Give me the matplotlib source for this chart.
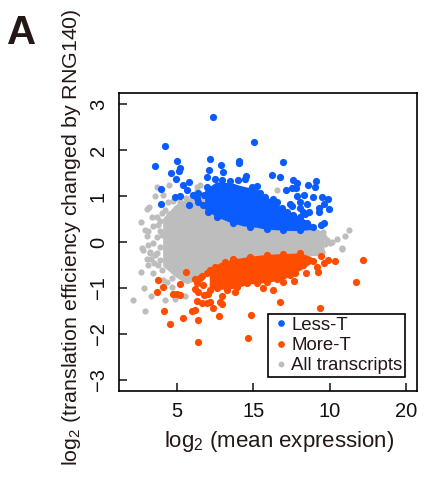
import numpy as np
import matplotlib
matplotlib.use('Agg')
import matplotlib.pyplot as plt
from matplotlib.lines import Line2D

plt.rcParams['font.family'] = ['Liberation Sans', 'DejaVu Sans']
plt.rcParams['mathtext.fontset'] = 'custom'
plt.rcParams['mathtext.rm'] = 'Liberation Sans'
plt.rcParams['mathtext.default'] = 'regular'

# saturated middle of each cloud, read as upper/lower edges
grey_core_x = [4.2, 4.98, 5.63, 6.5, 7.6, 8.68, 9.77, 10.86, 11.95, 13.04, 14.13, 14.46]
grey_core_hi = [0.50, 0.78, 0.88, 1.02, 0.90, 0.60, 0.45, 0.35, 0.30, 0.27, 0.24, 0.19]
grey_core_lo = [-0.50, -0.72, -0.86, -0.75, -0.50, -0.36, -0.30, -0.28, -0.26, -0.25, -0.25, -0.10]

blue_core_x = [6.9, 7.6, 8.47, 9.34, 10.2, 10.65, 11.3, 11.84, 12.39, 13.04, 13.7]
blue_core_hi = [1.12, 1.28, 1.26, 1.18, 1.12, 0.98, 0.87, 0.72, 0.60, 0.52, 0.38]
blue_core_lo = [0.72, 0.58, 0.46, 0.38, 0.35, 0.32, 0.30, 0.29, 0.28, 0.28, 0.30]

orange_core_x = [7.2, 7.81, 8.68, 9.77, 10.86, 11.95, 13.04, 13.7]
orange_core_hi = [-0.62, -0.48, -0.40, -0.34, -0.30, -0.28, -0.27, -0.34]
orange_core_lo = [-1.00, -1.00, -0.98, -0.88, -0.85, -0.78, -0.58, -0.44]

# single points around the clouds
grey_x = [2.63, 3.19, 3.02, 3.67, 4.46, 3.56, 4.11, 4.44, 4.76, 3.35, 3.78, 3.46, 2.91, 3.13, 3.06,
          2.69, 2.80, 3.13, 3.24, 3.46, 4.00, 3.67, 4.22, 5.20, 6.29, 6.51, 11.56, 16.27, 16.0, 15.48,
          15.77, 15.0, 14.57, 14.24, 14.78, 2.15, 2.63, 2.87, 2.91, 3.28, 4.22, 4.89, 5.53, 4.65, 4.11,
          3.46, 3.13, 3.02, 3.56, 3.24, 15.11, 15.77, 14.46, 3.78, 4.0, 4.33, 4.65,
          3.7, 3.9, 3.9, 3.7, 3.9, 3.5, 3.3, 3.9, 4.0, 4.5, 4.9, 5.3, 5.6, 6.0, 6.3, 14.6, 14.4, 14.7]
grey_y = [0.44, 0.77, 0.71, 1.20, 1.25, 1.00, 1.02, 0.88, 0.90, 0.54, 0.38, 0.35, 0.27, 0.25, 0.12,
          -0.14, -0.17, -0.07, -0.25, -0.03, 0.62, 0.55, 0.70, 0.88, 1.20, 1.24, 1.14, 0.27, 0.13, 0.06,
          -0.14, -0.03, 0.22, -0.03, 0.04, -1.27, -0.65, -1.0, -1.51, -1.18, -1.26, -1.23, -1.17, -0.97, -0.83,
          -0.68, -0.5, -0.36, -0.28, -0.21, 0.01, -0.16, -0.21, -0.5, -0.61, -0.86, -0.79,
          0.1, 0.25, -0.1, -0.25, -0.4, -0.45, -0.38, 0.45, 0.15, 0.6, 0.7, 0.85, 0.95, 1.0, 1.1, 0.1, -0.15, -0.05]

blue_x = [7.38, 4.22, 10.01, 3.54, 5.00, 5.18, 5.11, 4.61, 4.94, 3.94, 3.98, 4.87, 5.20, 5.42, 5.77,
          7.16, 7.86, 8.01, 7.09, 9.08, 9.03, 11.93, 11.19, 11.71, 9.49, 6.94, 12.61, 12.87, 14.07, 13.59,
          14.02, 12.13, 12.54, 12.78, 5.81, 6.40, 14.89, 14.92, 14.61, 14.26, 14.26, 14.63, 14.39, 13.65,
          13.37, 12.39, 12.82, 13.04, 13.30, 13.91, 14.46, 13.48, 13.04,
          6.94, 7.49, 7.92, 8.47, 9.01, 9.45, 8.68, 9.88, 10.21, 10.43, 10.75, 11.26, 11.52, 11.84, 12.17,
          12.61, 13.04, 13.48, 13.91, 12.50, 13.26, 7.05, 7.6, 8.68, 9.77, 10.86, 11.95, 13.04,
          6.72, 6.77, 6.4, 6.07, 5.68, 6.29]
blue_y = [2.71, 2.09, 2.17, 1.65, 1.76, 1.62, 1.55, 1.50, 1.36, 1.16, 0.83, 0.97, 0.99, 1.23, 1.31,
          1.80, 1.68, 1.53, 1.57, 1.76, 1.71, 1.75, 1.46, 1.41, 1.44, 1.41, 1.35, 1.29, 1.33, 1.24,
          1.20, 1.13, 1.18, 1.17, 0.80, 0.86, 0.93, 0.72, 0.83, 0.73, 0.66, 0.41, 0.37, 0.65,
          0.61, 0.83, 0.99, 0.73, 1.02, 0.98, 0.97, 0.83, 0.88,
          1.19, 1.38, 1.35, 1.33, 1.35, 1.36, 1.20, 1.19, 1.22, 1.06, 0.98, 0.93, 0.88, 0.75, 0.66,
          0.59, 0.54, 0.41, 0.33, 0.78, 0.66, 0.66, 0.54, 0.42, 0.33, 0.28, 0.26, 0.26,
          0.80, 1.02, 1.06, 1.02, 1.13, 0.95]

orange_x = [17.16, 16.70, 15.35, 14.89, 14.61, 14.13, 14.24, 13.43, 14.39, 11.73, 14.37, 9.82, 9.64, 6.40,
            4.52, 4.15, 5.42, 6.38, 7.73, 5.96, 6.18, 7.36, 7.97, 7.81, 7.97, 7.16, 6.94, 6.33, 6.61,
            3.67, 4.07, 3.76, 4.76, 5.20, 5.02, 5.18, 5.59, 6.18, 6.40, 6.18, 6.61, 11.30, 10.65, 11.91,
            12.65, 8.79, 7.05, 6.77,
            7.16, 7.6, 8.25, 8.9, 9.56, 10.21, 10.86, 11.52, 12.39, 12.72, 13.26, 13.91, 6.51, 6.94, 7.16,
            7.49, 8.14, 6.72, 6.29, 8.68, 9.77, 10.86, 11.95, 13.04]
orange_y = [-0.39, -0.87, -0.41, -0.39, -0.46, -0.54, -0.65, -0.67, -0.30, -1.30, -1.44, -1.59, -2.09, -2.17,
            -1.78, -1.50, -1.65, -1.70, -1.61, -1.49, -1.48, -1.43, -1.35, -1.30, -1.17, -1.30, -1.33, -1.28, -1.32,
            -1.08, -0.97, -0.83, -1.14, -1.15, -1.12, -0.92, -0.65, -1.03, -1.08, -0.81, -0.75, -1.04, -1.01, -0.88,
            -0.84, -1.08, -1.12, -1.15,
            -1.04, -1.01, -1.04, -0.97, -0.90, -0.90, -0.88, -0.81, -0.72, -0.68, -0.50, -0.41, -0.79, -0.68, -0.61,
            -0.54, -0.43, -0.94, -0.90, -0.38, -0.32, -0.28, -0.26, -0.25]

x_ticks = [5, 10, 15, 20]
x_tick_labels = ['5', '15', '10', '20']
y_ticks = [-3, -2, -1, 0, 1, 2, 3]

grey = '#bdbdbd'
blue = '#0a5cff'
orange = '#ff4d00'

fig = plt.figure(figsize=(4.24, 5), dpi=100)
ax = fig.add_axes([119 / 424, 1 - 391 / 500, 298 / 424, 298 / 500])

ax.scatter(grey_x, grey_y, s=20, color=grey, linewidths=0)
ax.fill_between(grey_core_x, grey_core_lo, grey_core_hi, color=grey, linewidth=3)
ax.fill_between(blue_core_x, blue_core_lo, blue_core_hi, color=blue, linewidth=2)
ax.fill_between(orange_core_x, orange_core_lo, orange_core_hi, color=orange, linewidth=2)
ax.scatter(blue_x, blue_y, s=27, color=blue, linewidths=0)
ax.scatter(orange_x, orange_y, s=27, color=orange, linewidths=0)

ax.set_xlim(1.21, 20.69)
ax.set_ylim(-3.24, 3.24)
ax.set_xticks(x_ticks)
ax.set_xticklabels(x_tick_labels)
ax.set_yticks(y_ticks)
ax.tick_params(direction='in', length=5.5, width=1.1, labelsize=14.5, pad=8, colors='#111111')
ax.tick_params(axis='y', labelrotation=90, pad=8)
for lab in ax.get_yticklabels():
    lab.set_va('center')
for sp in ax.spines.values():
    sp.set_linewidth(1.2)

handles = [Line2D([], [], ls='', marker='o', ms=4.8, mfc=blue, mec='none', label='Less-T'),
           Line2D([], [], ls='', marker='o', ms=4.8, mfc=orange, mec='none', label='More-T'),
           Line2D([], [], ls='', marker='o', ms=4.2, mfc=grey, mec='none', label='All transcripts')]
leg = ax.legend(handles=handles, loc='lower left', bbox_to_anchor=((268 - 119) / 298, (391 - 377) / 298),
                fontsize=13.4, frameon=True, fancybox=False, framealpha=1, edgecolor='black',
                borderpad=0.15, handletextpad=0.0, labelspacing=0.17, handlelength=1.1, borderaxespad=0)
leg.get_frame().set_linewidth(1.2)
for t in leg.get_texts():
    t.set_color('#231815')

fig.text(279 / 424, 1 - 441 / 500, 'log$_2$ (mean expression)', fontsize=16, ha='center', va='center', color='#231815')
fig.text(72 / 424, 1 - 237 / 500, 'log$_2$ (translation efficiency changed by RNG140)', fontsize=15.4,
         rotation=90, ha='center', va='center', color='#231815')
fig.text(7 / 424, 1 - 44 / 500, 'A', fontsize=29, fontweight='bold', ha='left', va='baseline', color='#231815')

fig.savefig('out.png', dpi=100)
